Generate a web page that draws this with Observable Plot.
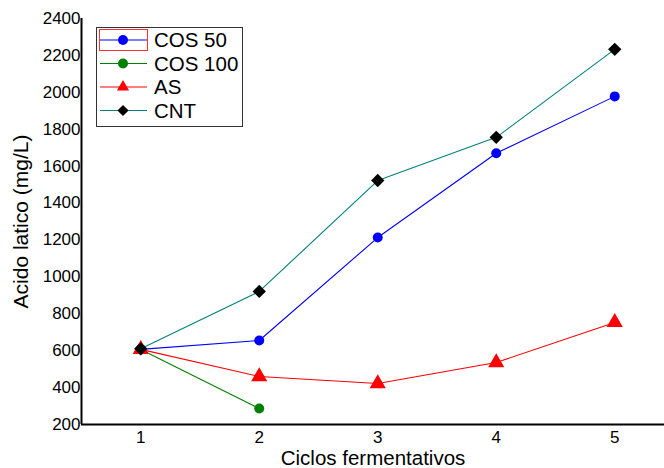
<!DOCTYPE html>
<html>
<head>
<meta charset="utf-8">
<script src="https://cdn.jsdelivr.net/npm/d3@7"></script>
<script src="https://cdn.jsdelivr.net/npm/@observablehq/plot@0.6"></script>
<style>
  body { margin: 0; background: #fff; }
  #wrap { position: relative; width: 664px; height: 468px; font-family: Arial, "Liberation Sans", sans-serif; }
  #legend { position: absolute; left: 0; top: 0; }
</style>
</head>
<body>
<div id="wrap"></div>
<script>
const cycles = [1, 2, 3, 4, 5];
const cos50 = [607, 655, 1213, 1670, 1978];
const cos100 = [607, 287];
const as = [607, 460, 422, 536, 753];
const cnt = [610, 921, 1522, 1756, 2233];
const seriesNames = ["COS 50", "COS 100", "AS", "CNT"];
const yTicks = [200, 400, 600, 800, 1000, 1200, 1400, 1600, 1800, 2000, 2200, 2400];
const xTicks = [1, 2, 3, 4, 5];

const lineColors = {"COS 50": "#0000ff", "COS 100": "#008000", "AS": "#ff0000", "CNT": "#008080"};
const markColors = {"COS 50": "#0000ff", "COS 100": "#008000", "AS": "#ff0000", "CNT": "#000000"};
const symbols = {"COS 50": "circle", "COS 100": "circle", "AS": "triangle", "CNT": "diamond2"};
const radii = {"COS 50": 5, "COS 100": 5, "AS": 6, "CNT": 6};

const valuesBy = {"COS 50": cos50, "COS 100": cos100, "AS": as, "CNT": cnt};
const data = [];
for (const s of seriesNames) {
  valuesBy[s].forEach((v, i) => data.push({series: s, cycle: cycles[i], value: v}));
}

const marks = [];
for (const s of seriesNames) {
  const d = data.filter(r => r.series === s);
  marks.push(Plot.line(d, {x: "cycle", y: "value", stroke: lineColors[s], strokeWidth: 1.1}));
}
for (const s of seriesNames) {
  const d = data.filter(r => r.series === s);
  marks.push(Plot.dot(d, {x: "cycle", y: "value", symbol: symbols[s], fill: markColors[s], stroke: "none", r: radii[s]}));
}

const chart = Plot.plot({
  width: 664,
  height: 468,
  marginLeft: 81,
  marginRight: 0,
  marginTop: 18,
  marginBottom: 44,
  style: {fontFamily: "Arial, 'Liberation Sans', sans-serif", fontSize: "16px", color: "#000", background: "#fff"},
  x: {domain: [0.5, 5.42], ticks: xTicks},
  y: {domain: [200, 2400], ticks: yTicks},
  marks: [
    Plot.axisY({ticks: yTicks, tickSize: 0, tickPadding: 1, tickFormat: d => String(d), fontSize: 17, label: null}),
    Plot.axisX({ticks: xTicks, tickSize: 0, tickPadding: 6, tickFormat: d => String(d), fontSize: 17, label: null}),
    ...marks,
    Plot.ruleX([0.5], {stroke: "#000", strokeWidth: 2}),
    Plot.ruleY([200], {stroke: "#000", strokeWidth: 2}),
    Plot.text(["Ciclos fermentativos"], {x: 2.96, y: 200, dy: 34, fontSize: 20.5, fill: "#000", lineAnchor: "middle"}),
    Plot.text(["Acido latico (mg/L)"], {x: 0.5, y: 1300, dx: -60, rotate: -90, fontSize: 21, fill: "#000"})
  ]
});
const wrap = document.getElementById("wrap");
wrap.appendChild(chart);

// Legend
const legendRows = [40, 63.5, 87, 110.5];
const lg = d3.select(wrap).append("svg").attr("id", "legend").attr("width", 664).attr("height", 468)
  .style("position", "absolute").style("left", "0px").style("top", "0px");
lg.append("rect").attr("x", 96.5).attr("y", 27.5).attr("width", 146).attr("height", 99)
  .attr("fill", "#fff").attr("stroke", "#333").attr("stroke-width", 1);
seriesNames.forEach((s, i) => {
  const y = legendRows[i];
  lg.append("line").attr("x1", 100).attr("x2", 147).attr("y1", y).attr("y2", y)
    .attr("stroke", lineColors[s]).attr("stroke-width", 1.1);
  const sym = {circle: d3.symbolCircle, triangle: d3.symbolTriangle, diamond2: d3.symbolDiamond2}[symbols[s]];
  const r = radii[s];
  const size = symbols[s] === "circle" ? Math.PI * r * r : (symbols[s] === "triangle" ? r * r * 1.8 : r * r * 2.2);
  lg.append("path").attr("d", d3.symbol(sym, size)()).attr("transform", `translate(123,${y})`).attr("fill", markColors[s]);
  lg.append("text").attr("x", 154).attr("y", y).attr("dy", "0.36em").attr("font-size", 20.5).attr("fill", "#000")
    .attr("font-family", "Arial, 'Liberation Sans', sans-serif").text(s);
});
lg.append("rect").attr("x", 99.5).attr("y", 29.5).attr("width", 48).attr("height", 21)
  .attr("fill", "none").attr("stroke", "#ff3030").attr("stroke-width", 1);
</script>
</body>
</html>
